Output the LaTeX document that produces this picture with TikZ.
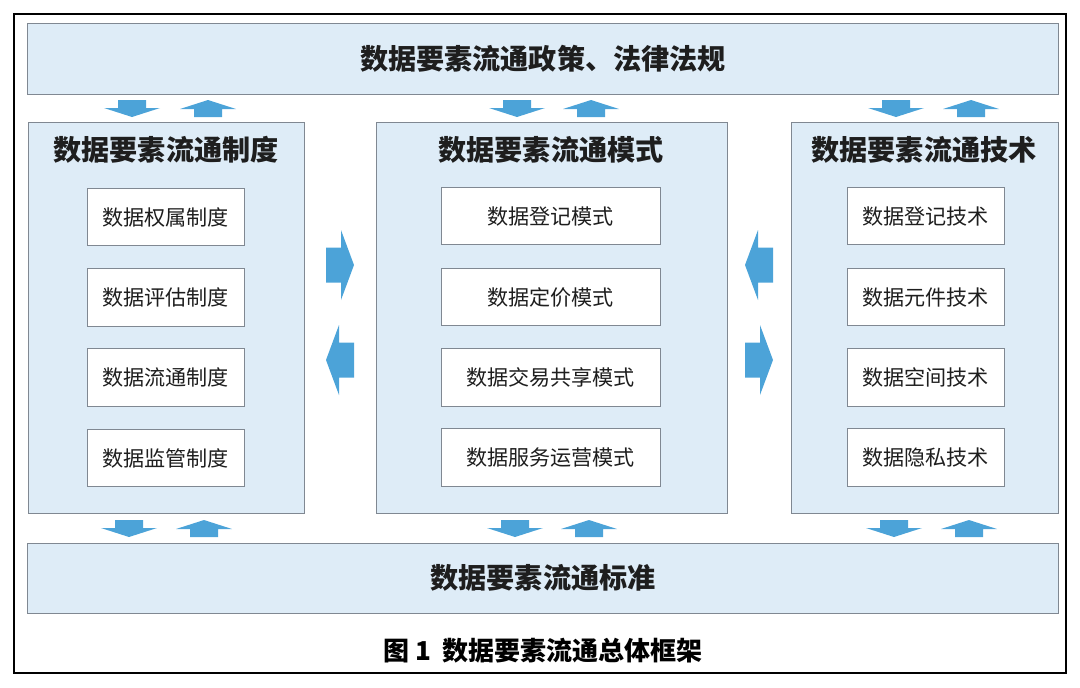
\documentclass[tikz,border=0pt]{standalone}
\usepackage{fontspec}
\setmainfont{Noto Sans CJK SC}
\usepackage{tikz}
\usetikzlibrary{positioning}

\definecolor{bandblue}{RGB}{222, 236, 247}
\definecolor{flowblue}{RGB}{76, 163, 216}
\definecolor{edgegray}{RGB}{128, 136, 146}
\definecolor{inkgray}{RGB}{30, 30, 30}

\tikzset{
  band/.style={draw=edgegray, fill=bandblue, line width=0.6pt, minimum width=25.75cm, text=inkgray,
    font=\fontsize{20pt}{24pt}\selectfont\bfseries},
  column/.style={draw=edgegray, fill=bandblue, line width=0.6pt, minimum height=9.775cm},
  coltitle/.style={text=inkgray, font=\fontsize{20pt}{24pt}\selectfont\bfseries},
  item/.style={draw=edgegray, fill=white, line width=0.6pt, minimum height=1.43cm, text=inkgray,
    font=\fontsize{15pt}{18pt}\selectfont},
}

% block arrows, coordinates in pixels
\newcommand\arrdn[2]{% centre x, top y
  \fill[flowblue] (#1-14,#2) -- (#1+14,#2) -- (#1+14,#2+8) -- (#1+28,#2+8) -- (#1,#2+17)
    -- (#1-28,#2+8) -- (#1-14,#2+8) -- cycle;}
\newcommand\arrup[2]{% centre x, top y
  \fill[flowblue] (#1,#2) -- (#1+28,#2+9) -- (#1+14,#2+9) -- (#1+14,#2+17) -- (#1-14,#2+17)
    -- (#1-14,#2+9) -- (#1-28,#2+9) -- cycle;}
\newcommand\arrrt[2]{% left x, centre y
  \fill[flowblue] (#1,#2-17.5) -- (#1+15,#2-17.5) -- (#1+15,#2-35) -- (#1+28,#2) -- (#1+15,#2+35)
    -- (#1+15,#2+17.5) -- (#1,#2+17.5) -- cycle;}
\newcommand\arrlt[2]{% left x, centre y
  \fill[flowblue] (#1,#2) -- (#1+13,#2-35) -- (#1+13,#2-17.5) -- (#1+28,#2-17.5) -- (#1+28,#2+17.5)
    -- (#1+13,#2+17.5) -- (#1+13,#2+35) -- cycle;}

\begin{document}
\begin{tikzpicture}[x=0.025cm, y=-0.025cm]
  \useasboundingbox (0,0) rectangle (1080,687);

  % Outer frame
  \draw[line width=0.8pt] (14,14) rectangle (1066,673);

  % Policy and standard bands
  \node[band, minimum height=1.775cm] (policy) at (543,58.5) {数据要素流通政策、法律法规};
  \node[band, minimum height=1.75cm] (standard) at (543,578) {数据要素流通标准};

  % Three columns
  \node[column, minimum width=6.9cm] (system) at (166,317.5) {};
  \node[column, minimum width=8.775cm] (mode) at (551.5,317.5) {};
  \node[column, minimum width=6.675cm] (tech) at (924.5,317.5) {};

  \node[coltitle] (systitle) at (166,150) {数据要素流通制度};
  \node[coltitle] (modetitle) at (551,150) {数据要素流通模式};
  \node[coltitle] (techtitle) at (924,150) {数据要素流通技术};

  % Items of each column
  \foreach \y/\name/\txt in {217/s1/数据权属制度, 297.5/s2/数据评估制度, 377.5/s3/数据流通制度, 458/s4/数据监管制度}
    \node[item, minimum width=3.925cm] (\name) at (165.5,\y) {\txt};
  \foreach \y/\name/\txt in {216/m1/数据登记模式, 297/m2/数据定价模式, 377.5/m3/数据交易共享模式, 457.5/m4/数据服务运营模式}
    \node[item, minimum width=5.475cm] (\name) at (550.5,\y) {\txt};
  \foreach \y/\name/\txt in {216/t1/数据登记技术, 297/t2/数据元件技术, 377.5/t3/数据空间技术, 457.5/t4/数据隐私技术}
    \node[item, minimum width=3.925cm] (\name) at (925.5,\y) {\txt};

  % Arrows to and from the bands
  \foreach \xa/\xb in {132/208, 517/591, 896/971} {
    \arrdn{\xa}{100}
    \arrup{\xb}{100}
  }
  \foreach \xa/\xb in {129/204, 515/589, 894/969} {
    \arrdn{\xa}{520}
    \arrup{\xb}{520}
  }

  % Arrows between the columns
  \arrrt{326}{265}
  \arrlt{326}{360}
  \arrlt{745}{265}
  \arrrt{745}{360}

  % Caption
  \node[text=black, font=\fontsize{18.5pt}{22pt}\selectfont\bfseries] (caption) at (543,651) {图 1\ \ 数据要素流通总体框架};
\end{tikzpicture}
\end{document}
